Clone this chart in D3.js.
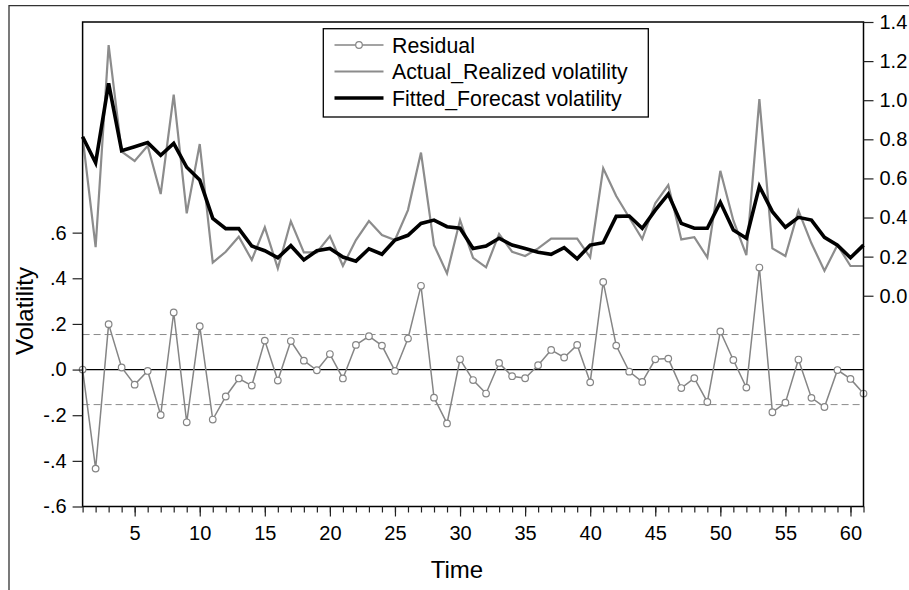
<!DOCTYPE html>
<html><head><meta charset="utf-8">
<script src="https://cdn.jsdelivr.net/npm/d3@7"></script>
<style>body{margin:0;background:#fff}svg{display:block;font-family:"Liberation Sans",Arial,sans-serif}</style>
</head><body>
<svg id="c" width="909" height="590"></svg>
<script>
const time = d3.range(1, 62);
const residual = [0.000,-0.434,0.199,0.009,-0.066,-0.006,-0.199,0.250,-0.231,0.190,
 -0.219,-0.118,-0.039,-0.070,0.127,-0.048,0.125,0.039,-0.003,0.068,
 -0.039,0.108,0.146,0.105,-0.006,0.136,0.367,-0.123,-0.236,0.045,
 -0.046,-0.105,0.029,-0.029,-0.038,0.019,0.086,0.053,0.108,-0.056,
 0.384,0.105,-0.009,-0.054,0.045,0.048,-0.081,-0.038,-0.142,0.167,
 0.042,-0.079,0.447,-0.187,-0.145,0.044,-0.124,-0.164,-0.002,-0.041,-0.105];
const actual = [0.813,0.248,1.282,0.737,0.689,0.767,0.520,1.028,0.421,0.776,
 0.169,0.225,0.302,0.183,0.350,0.140,0.381,0.222,0.222,0.305,
 0.153,0.285,0.382,0.310,0.285,0.438,0.732,0.259,0.114,0.387,
 0.194,0.145,0.316,0.225,0.203,0.242,0.292,0.292,0.292,0.196,
 0.652,0.510,0.400,0.290,0.473,0.566,0.288,0.299,0.196,0.639,
 0.385,0.208,1.006,0.242,0.203,0.435,0.268,0.128,0.259,0.152,0.152];
const fitted = [0.813,0.680,1.086,0.742,0.762,0.783,0.718,0.779,0.657,0.592,
 0.396,0.343,0.343,0.254,0.230,0.194,0.256,0.183,0.230,0.242,
 0.198,0.177,0.240,0.212,0.285,0.309,0.370,0.387,0.353,0.345,
 0.242,0.254,0.294,0.259,0.242,0.222,0.212,0.246,0.189,0.259,
 0.271,0.406,0.408,0.345,0.438,0.520,0.370,0.345,0.345,0.478,
 0.336,0.294,0.559,0.430,0.350,0.401,0.387,0.299,0.259,0.194,0.259];
const residualSE = 0.1535;
const leftTicks = [-0.6,-0.4,-0.2,0.0,0.2,0.4,0.6];
const leftTickLabels = ["-.6","-.4","-.2",".0",".2",".4",".6"];
const rightTicks = [0.0,0.2,0.4,0.6,0.8,1.0,1.2,1.4];
const rightTickLabels = ["0.0","0.2","0.4","0.6","0.8","1.0","1.2","1.4"];
const xMajorTicks = [5,10,15,20,25,30,35,40,45,50,55,60];
const legendLabels = ["Residual","Actual_Realized volatility","Fitted_Forecast volatility"];

const L = 82.6, R = 863.5, T = 22, B = 506.5;
const svg = d3.select("#c");
const x = d3.scaleLinear().domain([1, 61]).range([L, R]);
const yL = d3.scaleLinear().domain([-0.6, 1.523]).range([B, T]);
const yR = d3.scaleLinear().domain([-1.078, 1.4]).range([B, T]);
const gray = "#858585";

// outer frame
svg.append("path").attr("d", `M9,590V5.7H909`).attr("fill","none").attr("stroke","#333").attr("stroke-width",1.3);

// reference lines
[residualSE, -residualSE].forEach(v => {
  svg.append("line").attr("x1",L).attr("x2",R).attr("y1",yL(v)).attr("y2",yL(v))
    .attr("stroke","#8a8a8a").attr("stroke-width",1).attr("stroke-dasharray","7,4");
});
svg.append("line").attr("x1",L).attr("x2",R).attr("y1",yL(0)).attr("y2",yL(0))
  .attr("stroke","#000").attr("stroke-width",1.3);

// residual
const resLine = d3.line().x((d,i)=>x(time[i])).y(d=>yL(d));
svg.append("path").attr("d", resLine(residual)).attr("fill","none").attr("stroke",gray).attr("stroke-width",1.5);
svg.append("g").selectAll("circle").data(residual).join("circle")
  .attr("cx",(d,i)=>x(time[i])).attr("cy",d=>yL(d)).attr("r",3.3)
  .attr("fill","#fff").attr("stroke",gray).attr("stroke-width",1.2);

// actual & fitted
const rLine = d3.line().x((d,i)=>x(time[i])).y(d=>yR(d));
svg.append("path").attr("d", rLine(actual)).attr("fill","none").attr("stroke","#8c8c8c").attr("stroke-width",2.2).attr("stroke-linejoin","miter");
svg.append("path").attr("d", rLine(fitted)).attr("fill","none").attr("stroke","#000").attr("stroke-width",3.6).attr("stroke-linejoin","miter");

// plot frame
svg.append("rect").attr("x",L).attr("y",T).attr("width",R-L).attr("height",B-T)
  .attr("fill","none").attr("stroke","#000").attr("stroke-width",1.5);

// left axis
const la = svg.append("g").attr("transform",`translate(${L},0)`)
  .call(d3.axisLeft(yL).tickValues(leftTicks).tickSize(10).tickPadding(6)
    .tickFormat((d,i)=>leftTickLabels[i]));
// right axis
const ra = svg.append("g").attr("transform",`translate(${R},0)`)
  .call(d3.axisRight(yR).tickValues(rightTicks).tickSize(10).tickPadding(6)
    .tickFormat((d,i)=>rightTickLabels[i]));
// x axis minor
const xm = svg.append("g").attr("transform",`translate(0,${B})`)
  .call(d3.axisBottom(x).tickValues(time).tickSize(6).tickFormat(""));
const xa = svg.append("g").attr("transform",`translate(0,${B})`)
  .call(d3.axisBottom(x).tickValues(xMajorTicks).tickSize(10).tickPadding(9).tickFormat(d3.format("d")));
[la,ra,xm,xa].forEach(g=>{
  g.select(".domain").remove();
  g.selectAll(".tick line").attr("stroke","#222").attr("stroke-width",1.2);
  g.selectAll("text").attr("font-size",20).attr("fill","#000").attr("font-family",'"Liberation Sans",Arial,sans-serif');
});

// axis titles
svg.append("text").attr("x",457).attr("y",578).attr("text-anchor","middle")
  .attr("font-size",24).text("Time");
svg.append("text").attr("transform","translate(33,311) rotate(-90)").attr("text-anchor","middle")
  .attr("font-size",24).text("Volatility");

// legend
const lg = svg.append("g");
lg.append("rect").attr("x",323.3).attr("y",28.7).attr("width",325).attr("height",88.3)
  .attr("fill","#fff").attr("stroke","#000").attr("stroke-width",1.3);
const rowsY = [45, 71.5, 98];
const styles = [{c:gray,w:1.5},{c:"#8c8c8c",w:2.2},{c:"#000",w:3.6}];
legendLabels.forEach((t,i)=>{
  lg.append("line").attr("x1",334.5).attr("x2",383.5).attr("y1",rowsY[i]).attr("y2",rowsY[i])
    .attr("stroke",styles[i].c).attr("stroke-width",styles[i].w);
  if(i===0) lg.append("circle").attr("cx",359).attr("cy",rowsY[i]).attr("r",3.3)
    .attr("fill","#fff").attr("stroke",gray).attr("stroke-width",1.2);
  lg.append("text").attr("x",392).attr("y",rowsY[i]).attr("dy","0.36em")
    .attr("font-size",21.3).text(t);
});
</script>
</body></html>
